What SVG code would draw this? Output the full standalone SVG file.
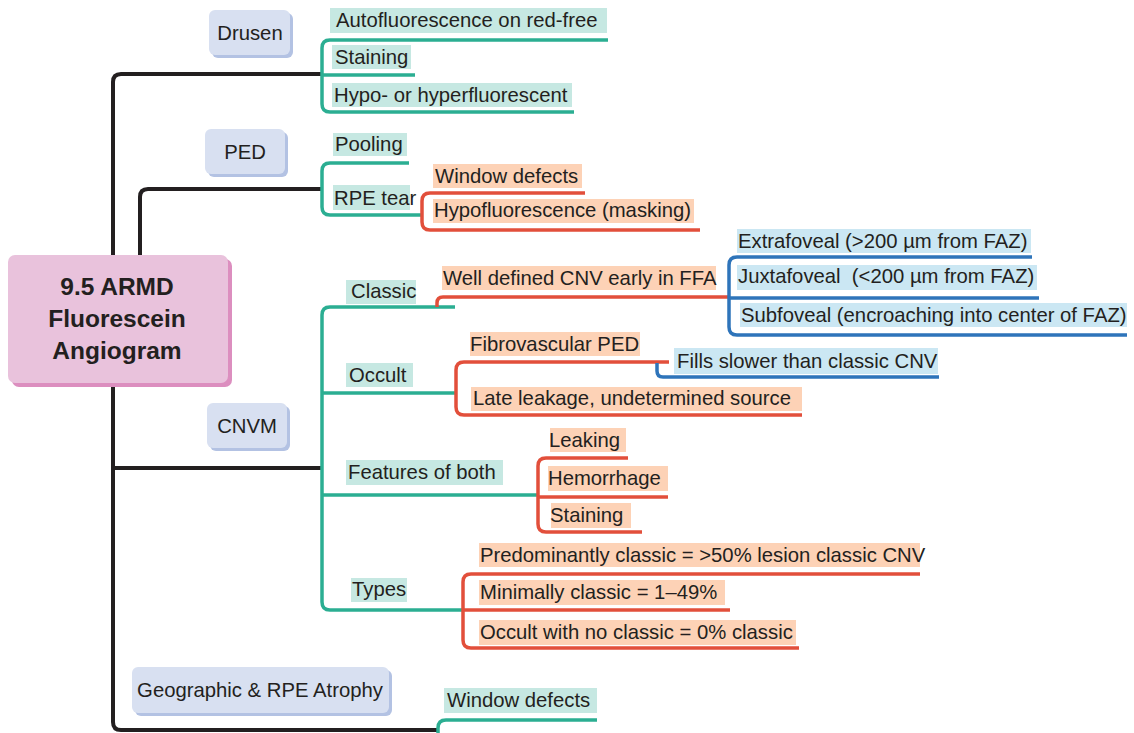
<svg xmlns="http://www.w3.org/2000/svg" width="1134" height="733" viewBox="0 0 1134 733">
<style>
text{font-family:"Liberation Sans",Arial,sans-serif;font-size:20.3px;fill:#231f20}
.cat{text-anchor:middle}
.root{font-weight:bold;font-size:24.5px;text-anchor:middle}
.tbg{fill:#c6e8e2}
.obg{fill:#fdd2b6}
.bbg{fill:#cbe7f3}
.nf{fill:#d8e0f1}
.ns{fill:#b3c2e3}
.rf{fill:#e9c2dc}
.rs{fill:#dc8ebf}
.k{fill:none;stroke:#231f20;stroke-width:4}
.t{fill:none;stroke:#2bae92;stroke-width:3.5}
.o{fill:none;stroke:#e24f3b;stroke-width:3.5}
.b{fill:none;stroke:#2e74ba;stroke-width:3.5}
</style>
<rect width="1134" height="733" fill="#ffffff"/>
<g id="connectors">
<path class="k" d="M322,74 H121 Q113,74 113,82 V722 Q113,730 121,730 H438"/>
<path class="k" d="M140,256 V197 Q140,189 148,189 H322"/>
<path class="k" d="M113,468 H322"/>
<path class="t" d="M608,40 H330 Q322,40 322,48 V104 Q322,112 330,112 H574"/>
<path class="t" d="M322,75 H415"/>
<path class="t" d="M409,163 H330 Q322,163 322,171 V207 Q322,215 330,215 H422"/>
<path class="t" d="M455,307 H330 Q322,307 322,315 V602 Q322,610 330,610 H463"/>
<path class="t" d="M322,393 H456"/>
<path class="t" d="M322,495 H538"/>
<path class="t" d="M597,720 H446 Q438,720 438,728 V740"/>
<path class="o" d="M585,193 H430 Q422,193 422,201 V222 Q422,230 430,230 H700"/>
<path class="o" d="M437,307 V303 Q437,297 443,297 H729"/>
<path class="o" d="M669,362 H464 Q456,362 456,370 V407 Q456,415 464,415 H802"/>
<path class="o" d="M628,458 H546 Q538,458 538,466 V524 Q538,532 546,532 H642"/>
<path class="o" d="M538,497 H668"/>
<path class="o" d="M920,574 H471 Q463,574 463,582 V640 Q463,648 471,648 H799"/>
<path class="o" d="M463,610 H730"/>
<path class="b" d="M1032,257 H737 Q729,257 729,265 V327 Q729,335 737,335 H1127"/>
<path class="b" d="M729,298 H1039"/>
<path class="b" d="M657,363 V371 Q657,377 663,377 H939"/>
</g>
<g id="root">
<rect class="rs" x="12" y="259" width="220" height="128" rx="7"/>
<rect class="rf" x="8" y="255" width="220" height="128" rx="7"/>
<text class="root" x="117" y="295">9.5 ARMD</text>
<text class="root" x="117" y="327">Fluorescein</text>
<text class="root" x="117" y="359">Angiogram</text>
</g>
<g id="drusen">
<rect class="ns" x="212" y="13" width="81" height="45" rx="6"/>
<rect class="nf" x="209" y="10" width="81" height="45" rx="6"/>
<text class="cat" x="250" y="40">Drusen</text>
</g>
<g id="ped">
<rect class="ns" x="208" y="132" width="80" height="45" rx="6"/>
<rect class="nf" x="205" y="129" width="80" height="45" rx="6"/>
<text class="cat" x="245" y="159">PED</text>
</g>
<g id="cnvm">
<rect class="ns" x="210" y="406" width="80" height="45" rx="6"/>
<rect class="nf" x="207" y="403" width="80" height="45" rx="6"/>
<text class="cat" x="247" y="433">CNVM</text>
</g>
<g id="geographic">
<rect class="ns" x="135" y="670" width="257" height="46" rx="6"/>
<rect class="nf" x="132" y="667" width="257" height="46" rx="6"/>
<text class="cat" x="260" y="697">Geographic &amp; RPE Atrophy</text>
</g>
<g id="drusen-items">
<g id="autofluorescence"><rect class="tbg" x="330" y="8" width="277" height="25"/><text x="336" y="27">Autofluorescence on red-free</text></g>
<g id="staining-drusen"><rect class="tbg" x="332" y="45" width="79" height="24"/><text x="335" y="64">Staining</text></g>
<g id="hypo-hyper"><rect class="tbg" x="332" y="83" width="240" height="24"/><text x="334" y="102">Hypo- or hyperfluorescent</text></g>
</g>
<g id="ped-items">
<g id="pooling"><rect class="tbg" x="333" y="133" width="74" height="23"/><text x="335" y="151">Pooling</text></g>
<g id="rpe-tear"><rect class="tbg" x="333" y="185" width="77" height="25"/><text x="334" y="205">RPE tear</text></g>
<g id="window-defects-rpe"><rect class="obg" x="433" y="164" width="149" height="24"/><text x="435" y="183">Window defects</text></g>
<g id="hypofluorescence"><rect class="obg" x="433" y="199" width="261" height="24"/><text x="434" y="217">Hypofluorescence (masking)</text></g>
</g>
<g id="cnvm-items">
<g id="classic"><rect class="tbg" x="346" y="280" width="70" height="24"/><text x="351" y="298">Classic</text></g>
<g id="occult"><rect class="tbg" x="346" y="363" width="67" height="24"/><text x="349" y="382">Occult</text></g>
<g id="features"><rect class="tbg" x="346" y="460" width="157" height="25"/><text x="348" y="479">Features of both</text></g>
<g id="types"><rect class="tbg" x="351" y="578" width="56" height="24"/><text x="352" y="596">Types</text></g>
<g id="well-defined"><rect class="obg" x="442" y="266" width="274" height="24"/><text x="443" y="285">Well defined CNV early in FFA</text></g>
<g id="extrafoveal"><rect class="bbg" x="737" y="229" width="294" height="24"/><text x="738" y="248">Extrafoveal (&gt;200 µm from FAZ)</text></g>
<g id="juxtafoveal"><rect class="bbg" x="737" y="265" width="300" height="25"/><text x="738" y="283">Juxtafoveal&#160; (&lt;200 µm from FAZ)</text></g>
<g id="subfoveal"><rect class="bbg" x="740" y="303" width="387" height="24"/><text x="741" y="322">Subfoveal (encroaching into center of FAZ)</text></g>
<g id="fibrovascular"><rect class="obg" x="470" y="332" width="170" height="24"/><text x="470" y="351">Fibrovascular PED</text></g>
<g id="fills-slower"><rect class="bbg" x="674" y="348" width="264" height="26"/><text x="677" y="368">Fills slower than classic CNV</text></g>
<g id="late-leakage"><rect class="obg" x="471" y="387" width="331" height="24"/><text x="473" y="405">Late leakage, undetermined source</text></g>
<g id="leaking"><rect class="obg" x="550" y="428" width="76" height="24"/><text x="549" y="447">Leaking</text></g>
<g id="hemorrhage"><rect class="obg" x="548" y="466" width="120" height="25"/><text x="548" y="485">Hemorrhage</text></g>
<g id="staining-cnv"><rect class="obg" x="551" y="503" width="80" height="25"/><text x="550" y="522">Staining</text></g>
<g id="predominantly"><rect class="obg" x="479" y="543" width="441" height="24"/><text x="480" y="562">Predominantly classic = &gt;50% lesion classic CNV</text></g>
<g id="minimally"><rect class="obg" x="479" y="580" width="246" height="25"/><text x="480" y="599">Minimally classic = 1–49%</text></g>
<g id="occult-no-classic"><rect class="obg" x="479" y="620" width="317" height="25"/><text x="480" y="639">Occult with no classic = 0% classic</text></g>
</g>
<g id="geographic-items">
<g id="window-defects-ga"><rect class="tbg" x="444" y="688" width="153" height="25"/><text x="447" y="707">Window defects</text></g>
</g>
</svg>
